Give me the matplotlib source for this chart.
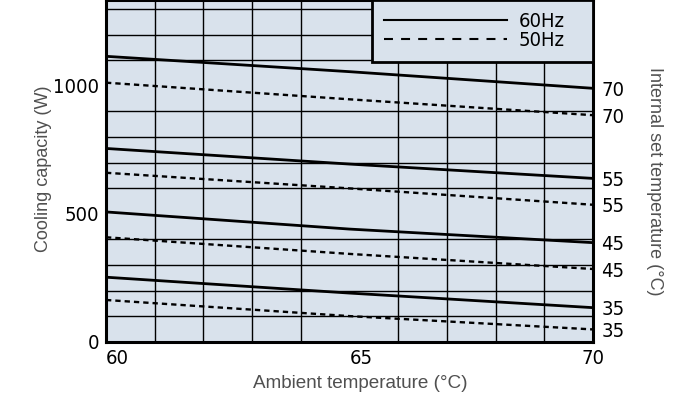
import matplotlib
matplotlib.use("Agg")
import matplotlib.pyplot as plt
from matplotlib.lines import Line2D
from matplotlib import font_manager

# ---- data ----
ambient = [60, 65, 70]
cap_60hz_70 = [1115, 1055, 990]
cap_50hz_70 = [1012, 947, 885]
cap_60hz_55 = [755, 694, 638]
cap_50hz_55 = [660, 599, 535]
cap_60hz_45 = [507, 440, 387]
cap_50hz_45 = [408, 343, 284]
cap_60hz_35 = [252, 190, 133]
cap_50hz_35 = [163, 100, 48]
set_temp_labels = ["70", "70", "55", "55", "45", "45", "35", "35"]
x_ticks = [60, 65, 70]
y_ticks = [0, 500, 1000]
legend_labels = ["60Hz", "50Hz"]

series_60 = [cap_60hz_70, cap_60hz_55, cap_60hz_45, cap_60hz_35]
series_50 = [cap_50hz_70, cap_50hz_55, cap_50hz_45, cap_50hz_35]

# ---- fonts ----
names = {f.name for f in font_manager.fontManager.ttflist}
if "Liberation Sans Narrow" in names:
    num_font = dict(family="Liberation Sans Narrow")
    num_size = 16.5
    leg_size = 15.5
else:
    num_font = dict(family="DejaVu Sans", stretch="condensed")
    num_size = 14.5
    leg_size = 14.5
label_font = dict(family="Liberation Sans")
label_color = "#505050"
bg = "#d9e2ec"

fig = plt.figure(figsize=(7.0, 4.05), dpi=100)
ax = fig.add_axes([106 / 700, 63.3 / 405, 487 / 700, 341.7 / 405])
ax.set_facecolor(bg)
ax.set_xlim(60, 70)
ax.set_ylim(0, 1335)

ax.set_xticks(range(60, 71), minor=True)
ax.set_yticks(range(0, 1301, 100), minor=True)
ax.grid(which="minor", color="black", linewidth=1.0)
ax.set_axisbelow(True)
ax.tick_params(which="both", length=0)

for s in series_60:
    ax.plot(ambient, s, color="black", linewidth=2.0, solid_capstyle="butt")
for s in series_50:
    ax.plot(ambient, s, color="black", linewidth=1.7, linestyle=(0, (2.25, 1.7)))

ax.set_xticks(x_ticks)
ax.set_xticklabels([str(v) for v in x_ticks], fontsize=num_size, **num_font)
ax.set_yticks(y_ticks)
ax.set_yticklabels([str(v) for v in y_ticks], fontsize=num_size, **num_font)
ax.tick_params(axis="y", pad=5)
ax.tick_params(axis="x", pad=5)
for lbl in ax.get_xticklabels()[:-1]:
    lbl.set_horizontalalignment("left")

for sp in ax.spines.values():
    sp.set_linewidth(2.2)
    sp.set_color("black")

ax.set_xlabel("Ambient temperature (°C)", fontsize=13.6, color=label_color, **label_font)
ax.xaxis.set_label_coords(0.5216, -0.097)
ax.set_ylabel("Cooling capacity (W)", fontsize=13, color=label_color, **label_font)
ax.yaxis.set_label_coords(-0.111, 0.505)

# right axis
ax2 = ax.twinx()
ax2.set_ylim(ax.get_ylim())
ends = [s[-1] for pair in zip(series_60, series_50) for s in pair]
ax2.set_yticks(ends)
ax2.set_yticklabels(set_temp_labels, fontsize=num_size, **num_font)
ax2.tick_params(length=0, pad=6)
for sp in ax2.spines.values():
    sp.set_visible(False)
ax2.set_ylabel("Internal set temperature (°C)", fontsize=13, color=label_color,
               rotation=-90, **label_font)
ax2.yaxis.set_label_coords(1.143, 0.47)

handles = [Line2D([], [], color="black", linewidth=1.5),
           Line2D([], [], color="black", linewidth=1.5, linestyle=(0, (4.3, 3.9)))]
leg = ax.legend(handles, legend_labels, loc="upper left",
                bbox_to_anchor=(0.546, 0.824, 0.454, 0.176), mode="expand",
                borderaxespad=0, frameon=True, fancybox=False, framealpha=1,
                facecolor=bg, edgecolor="black", handlelength=6.1, handletextpad=0.6,
                labelspacing=0.0, borderpad=0.6,
                prop=font_manager.FontProperties(size=leg_size, **num_font))
leg.get_frame().set_linewidth(2.0)
leg.set_zorder(5)

fig.savefig("out.png", dpi=100, facecolor="white")
